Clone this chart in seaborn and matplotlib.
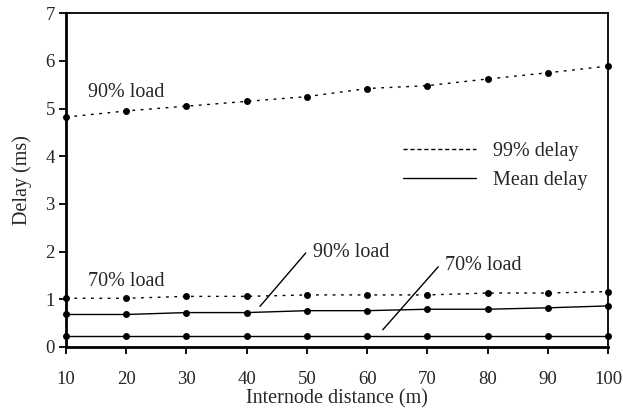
import matplotlib
matplotlib.use("Agg")
import matplotlib.pyplot as plt
import seaborn as sns
import pandas as pd
from matplotlib.lines import Line2D

distance = [10, 20, 30, 40, 50, 60, 70, 80, 90, 100]
p99_load90 = [4.82, 4.95, 5.05, 5.15, 5.25, 5.42, 5.48, 5.62, 5.75, 5.89]
p99_load70 = [1.02, 1.02, 1.06, 1.06, 1.09, 1.09, 1.09, 1.13, 1.13, 1.16]
mean_load90 = [0.68, 0.68, 0.72, 0.72, 0.76, 0.76, 0.79, 0.79, 0.82, 0.86]
mean_load70 = [0.22, 0.22, 0.22, 0.22, 0.22, 0.22, 0.22, 0.22, 0.22, 0.22]

sns.set_style("white")
plt.rcParams['font.family'] = ['Liberation Serif', 'DejaVu Serif']
plt.rcParams['font.size'] = 14.5

fig = plt.figure(figsize=(6.23, 4.12), dpi=100)
ax = fig.add_axes([0.106, 0.158, 0.87, 0.81])

series = [
    (p99_load90, (0, (2, 4))),
    (p99_load70, (0, (2, 4))),
    (mean_load90, '-'),
    (mean_load70, '-'),
]
for vals, ls in series:
    df = pd.DataFrame({"x": distance, "y": vals})
    sns.lineplot(data=df, x="x", y="y", ax=ax, color="black", linewidth=1.0,
                 linestyle=ls, marker="o", markersize=5, markeredgewidth=0,
                 clip_on=False, zorder=3)

ax.set_xlim(10, 100)
ax.set_ylim(0, 7)
ax.set_xticks(distance)
ax.set_yticks(range(0, 8))
ax.set_xlabel("Internode distance (m)", labelpad=1, fontsize=14.5)
ax.set_ylabel("Delay (ms)", labelpad=10, fontsize=14.5)
for s in ax.spines.values():
    s.set_color("black")
    s.set_linewidth(1.3)
ax.spines['left'].set_linewidth(2)
ax.spines['bottom'].set_linewidth(2)
ax.tick_params(axis='both', direction='out', length=5, width=1.3, color='black',
               bottom=True, left=True, labelsize=13.5, pad=3)
ax.tick_params(axis='x', pad=12)

# annotations
fs = 14.5
ax.text(13.6, 5.33, "90% load", va="center", ha="left", fontsize=fs)
ax.text(13.6, 1.37, "70% load", va="center", ha="left", fontsize=fs)
ax.text(51.0, 1.99, "90% load", va="center", ha="left", fontsize=fs)
ax.text(73.0, 1.70, "70% load", va="center", ha="left", fontsize=fs)
ax.plot([42.2, 49.8], [0.85, 1.97], color="black", lw=1.0)
ax.plot([62.6, 71.8], [0.36, 1.68], color="black", lw=1.0)

handles = [Line2D([], [], color="black", lw=1.0, linestyle=(0, (3, 2))),
           Line2D([], [], color="black", lw=1.0, linestyle='-')]
ax.legend(handles, ["99% delay", "Mean delay"], loc="upper left",
          bbox_to_anchor=(0.622, 0.615), frameon=False, handlelength=3.6,
          handletextpad=0.85, labelspacing=0.5, fontsize=fs,
          borderpad=0, borderaxespad=0)

fig.savefig("out.png", dpi=100)
